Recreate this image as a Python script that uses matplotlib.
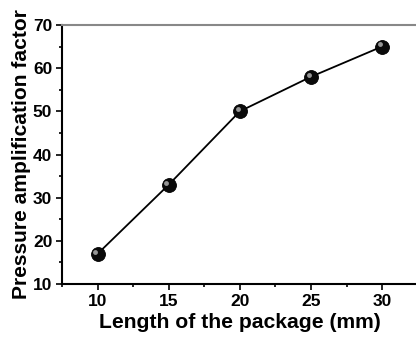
import matplotlib.pyplot as plt
from matplotlib.ticker import MultipleLocator
from matplotlib.transforms import offset_copy

plt.rcParams['font.family'] = ['Liberation Sans', 'DejaVu Sans']
plt.rcParams['font.weight'] = 'bold'

length_mm = [10, 15, 20, 25, 30]
amplification = [17, 33, 50, 58, 65]

fig = plt.figure(figsize=(4.16, 3.37), dpi=100)
ax = fig.add_axes([0.149, 0.157, 0.855, 0.769])

ax.plot(length_mm, amplification, color='black', lw=1.3, zorder=2)
ax.plot(length_mm, amplification, 'o', ms=10, mfc='#0a0a0a', mec='black', mew=0.6, zorder=3)
# small highlight to mimic shaded spheres
hl = offset_copy(ax.transData, fig=fig, x=-1.6, y=1.6, units='points')
ax.plot(length_mm, amplification, 'o', ms=3.5, mfc='#b0b0b0', mec='none', zorder=4,
        transform=hl, alpha=0.85)

ax.set_xlim(7.5, 32.5)
ax.set_ylim(10, 70)
ax.xaxis.set_major_locator(MultipleLocator(5))
ax.xaxis.set_minor_locator(MultipleLocator(2.5))
ax.yaxis.set_major_locator(MultipleLocator(10))
ax.yaxis.set_minor_locator(MultipleLocator(5))
ax.tick_params(which='both', direction='out', labelsize=12.5, width=1.2, pad=3)
ax.tick_params(which='major', length=4)
ax.tick_params(which='minor', length=2.5)
for lab in ax.get_xticklabels() + ax.get_yticklabels():
    lab.set_fontweight('bold')

ax.spines['top'].set_color('#888888')
ax.spines['top'].set_linewidth(1.5)
for s in ('left', 'bottom'):
    ax.spines[s].set_linewidth(1.5)

ax.set_xlabel('Length of the package (mm)', fontsize=15.2, fontweight='bold', labelpad=3)
ax.set_ylabel('Pressure amplification factor', fontsize=15.1, fontweight='bold', labelpad=1)

fig.savefig('out.png', dpi=100)
